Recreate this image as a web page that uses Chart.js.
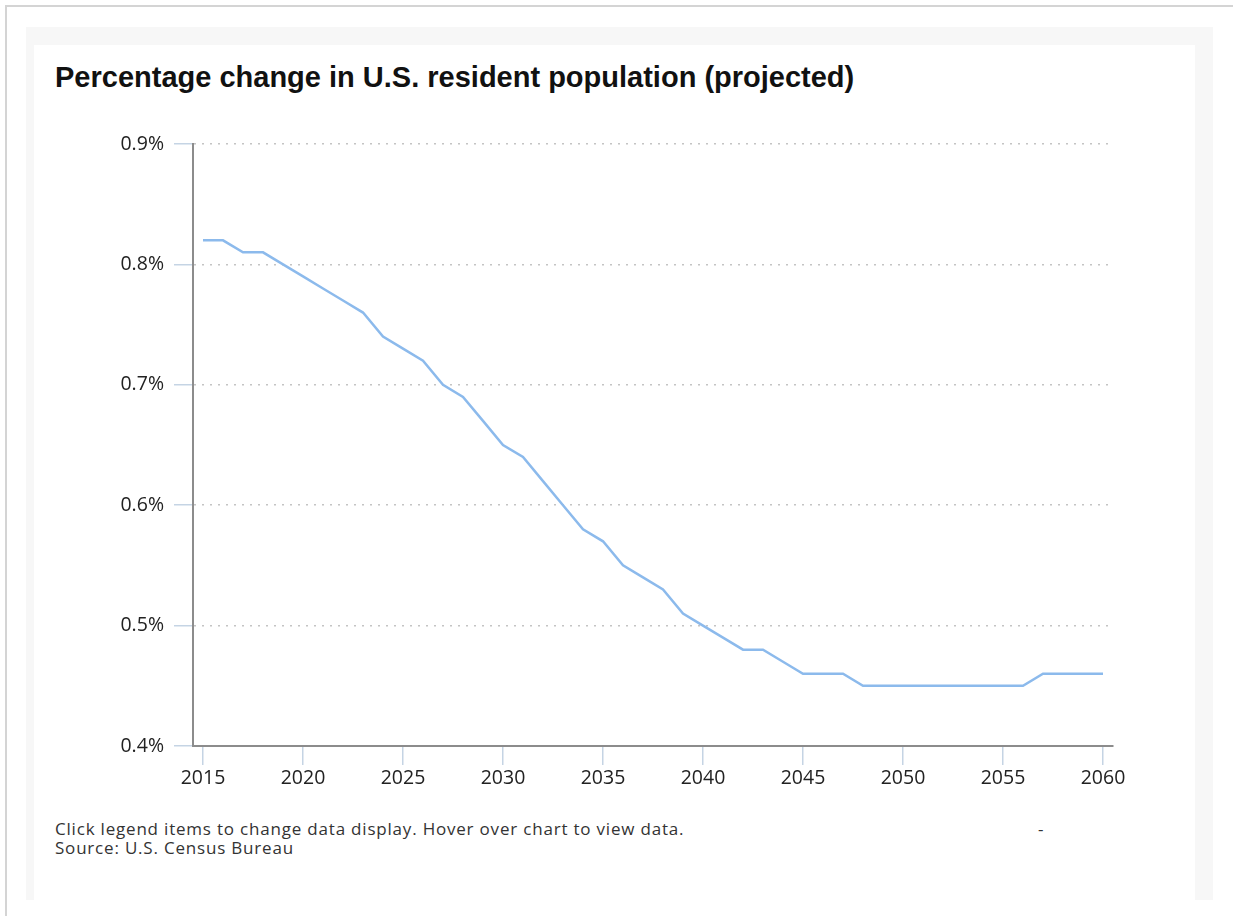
<!DOCTYPE html>
<html>
<head>
<meta charset="utf-8">
<script src="https://cdn.jsdelivr.net/npm/chart.js@4"></script>
<style>
  html, body { margin: 0; padding: 0; background: #fff; width: 1233px; height: 916px; overflow: hidden; }
  #frame { position: absolute; left: 5px; top: 5px; width: 1240px; height: 930px; border-top: 2px solid #d4d4d4; border-left: 2px solid #d4d4d4; }
  #panel { position: absolute; left: 26px; top: 27px; width: 1187px; height: 873px; background: #f7f7f7; }
  #card { position: absolute; left: 34px; top: 45px; width: 1161px; height: 855px; background: #fff; }
  #title { position: absolute; left: 55px; top: 61px; font: bold 29px "Liberation Sans", Arial, sans-serif; color: #111; white-space: nowrap; }
  .note { position: absolute; left: 55px; font: 17px "Open Sans", sans-serif; letter-spacing: 0.8px; color: #333; white-space: nowrap; }
  #chartBox { position: absolute; left: 0; top: 0; width: 1233px; height: 916px; }
</style>
</head>
<body>
<div id="frame"></div>
<div id="panel"></div>
<div id="card"></div>
<div id="title">Percentage change in U.S. resident population (projected)</div>
<div class="note" style="top:817px">Click legend items to change data display. Hover over chart to view data.</div>
<div class="note" style="top:836px">Source: U.S. Census Bureau</div>
<div class="note" style="top:817px; left:1038px">-</div>
<div id="chartBox"><canvas id="popChart"></canvas></div>
<script>
'use strict';

/* ---- data ---- */
const years = [];
for (let y = 2015; y <= 2060; y++) years.push(String(y));

const pctChange = [
  0.82, 0.82, 0.81, 0.81, 0.80, 0.79, 0.78, 0.77, 0.76, 0.74,   // 2015-2024
  0.73, 0.72, 0.70, 0.69, 0.67, 0.65, 0.64, 0.62, 0.60, 0.58,   // 2025-2034
  0.57, 0.55, 0.54, 0.53, 0.51, 0.50, 0.49, 0.48, 0.48, 0.47,   // 2035-2044
  0.46, 0.46, 0.46, 0.45, 0.45, 0.45, 0.45, 0.45, 0.45, 0.45,   // 2045-2054
  0.45, 0.45, 0.46, 0.46, 0.46, 0.46                            // 2055-2060
];

const yTicks = [0.4, 0.5, 0.6, 0.7, 0.8, 0.9];

/* ---- chart ---- */
const TICK_BLUE = '#c5d4e4';
const AXIS_GRAY = '#8c8c8c';
const LABEL_FONT = { family: '"Open Sans", sans-serif', size: 19.5 };

const ctx = document.getElementById('popChart').getContext('2d');
new Chart(ctx, {
  type: 'line',
  data: {
    labels: years,
    datasets: [{
      label: 'Percentage change',
      data: pctChange,
      borderColor: '#8cbaec',
      borderWidth: 2.5,
      pointRadius: 0,
      tension: 0,
      fill: false,
    }],
  },
  options: {
    responsive: true,
    maintainAspectRatio: false,
    animation: false,
    layout: { padding: { left: 0, top: 144, right: 120, bottom: 110 } },
    plugins: {
      legend: { display: false },
      tooltip: { enabled: false },
    },
    scales: {
      x: {
        offset: true,
        grid: {
          drawOnChartArea: false,
          tickLength: 19,
          tickColor: c => (Number(years[c.index]) % 5 === 0 ? TICK_BLUE : 'rgba(0,0,0,0)'),
          lineWidth: 1.5,
        },
        border: { color: AXIS_GRAY, width: 2 },
        ticks: {
          autoSkip: false,
          maxRotation: 0,
          padding: 2,
          color: '#222',
          font: LABEL_FONT,
          callback: (v, i) => (Number(years[i]) % 5 === 0 ? years[i] : ''),
        },
        afterFit: s => { s.height = 60; },
      },
      y: {
        min: 0.4,
        max: 0.9,
        afterBuildTicks: s => { s.ticks = yTicks.map(v => ({ value: v })); },
        grid: {
          color: '#c4c4c4',
          lineWidth: 1.5,
          tickLength: 19,
          tickColor: TICK_BLUE,
          tickBorderDash: [],
        },
        border: { color: AXIS_GRAY, width: 2, dash: [2, 6] },
        ticks: {
          padding: 10,
          color: '#222',
          font: LABEL_FONT,
          callback: v => v.toFixed(1) + '%',
        },
        afterFit: s => { s.width = 193; },
      },
    },
  },
});
</script>
</body>
</html>
